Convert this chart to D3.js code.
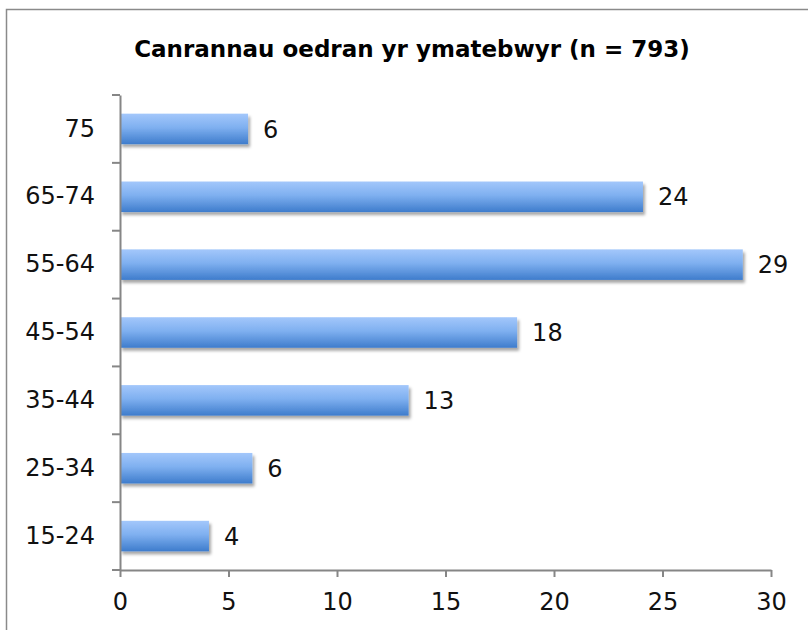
<!DOCTYPE html>
<html>
<head>
<meta charset="utf-8">
<script src="https://cdn.jsdelivr.net/npm/d3@7"></script>
<style>
  body { margin: 0; background: #fff; }
  svg { display: block; }
</style>
</head>
<body>
<div id="chart"></div>
<script>
// age groups, top to bottom as drawn
var categories = ["75", "65-74", "55-64", "45-54", "35-44", "25-34", "15-24"];
var values = [5.9, 24.1, 28.7, 18.3, 13.3, 6.1, 4.1];
var labels = ["6", "24", "29", "18", "13", "6", "4"];
var xTicks = [0, 5, 10, 15, 20, 25, 30];
var titleText = "Canrannau oedran yr ymatebwyr (n = 793)";

var width = 808, height = 630;
var margin = { top: 95, right: 37, bottom: 60, left: 120 };

var svg = d3.select("#chart").append("svg")
    .attr("width", width)
    .attr("height", height);

// gradient + shadow for the bars
var defs = svg.append("defs");
var grad = defs.append("linearGradient")
    .attr("id", "barGrad")
    .attr("x1", 0).attr("y1", 0).attr("x2", 0).attr("y2", 1);
grad.append("stop").attr("offset", "0%").attr("stop-color", "#a3c7fb");
grad.append("stop").attr("offset", "45%").attr("stop-color", "#7fb0f0");
grad.append("stop").attr("offset", "100%").attr("stop-color", "#3e7ccc");

var shadow = defs.append("filter").attr("id", "shadow")
    .attr("x", "-5%").attr("y", "-20%").attr("width", "115%").attr("height", "160%");
shadow.append("feDropShadow")
    .attr("dx", 2).attr("dy", 3).attr("stdDeviation", 1.8)
    .attr("flood-color", "#000").attr("flood-opacity", 0.35);

// outer frame
svg.append("rect")
    .attr("x", 6.5).attr("y", 9.5)
    .attr("width", 808).attr("height", 640)
    .style("fill", "none")
    .style("stroke", "#8a8a8a")
    .style("stroke-width", 1.5);

var x = d3.scaleLinear()
    .domain([0, 30])
    .range([margin.left, width - margin.right]);

var y = d3.scaleBand()
    .domain(categories)
    .range([margin.top, height - margin.bottom])
    .paddingInner(0.55)
    .paddingOuter(0.275);

var g = svg.append("g");

// bars
g.selectAll(".bar")
    .data(values)
    .enter().append("rect")
    .attr("class", "bar")
    .attr("x", x(0))
    .attr("y", function(d, i) { return y(categories[i]); })
    .attr("width", function(d) { return x(d) - x(0); })
    .attr("height", y.bandwidth())
    .style("fill", "url(#barGrad)")
    .style("filter", "url(#shadow)");

var font = "'DejaVu Sans', sans-serif";

// value labels
g.selectAll(".val")
    .data(values)
    .enter().append("text")
    .attr("class", "val")
    .attr("x", function(d) { return x(d) + 15; })
    .attr("y", function(d, i) { return y(categories[i]) + y.bandwidth() / 2; })
    .attr("dy", "0.36em")
    .style("font-family", font)
    .style("font-size", "24px")
    .style("fill", "#111")
    .text(function(d, i) { return labels[i]; });

var axisColor = "#868686";

// x axis
var xAxis = svg.append("g")
    .attr("transform", "translate(0," + (height - margin.bottom) + ")")
    .call(d3.axisBottom(x).tickValues(xTicks).tickSize(7).tickSizeOuter(0).tickPadding(16));

// y axis, ticks on band boundaries
var yAxis = svg.append("g")
    .attr("transform", "translate(" + margin.left + ",0)")
    .call(d3.axisLeft(y).tickSize(0).tickPadding(25));

var boundaries = d3.range(categories.length + 1).map(function(i) {
    return margin.top + i * (height - margin.top - margin.bottom) / categories.length;
});
yAxis.selectAll(".bound")
    .data(boundaries)
    .enter().append("line")
    .attr("class", "bound")
    .attr("x1", -8).attr("x2", 0)
    .attr("y1", function(d) { return d; })
    .attr("y2", function(d) { return d; });

[xAxis, yAxis].forEach(function(a) {
    a.select(".domain").style("stroke", axisColor).style("stroke-width", 2);
    a.selectAll("line").style("stroke", axisColor).style("stroke-width", 2);
    a.selectAll("text")
        .style("font-family", font)
        .style("font-size", "24px")
        .style("fill", "#111");
});

// title
svg.append("text")
    .attr("x", 412)
    .attr("y", 57)
    .attr("text-anchor", "middle")
    .style("font-family", font)
    .style("font-weight", "bold")
    .style("font-size", "23px")
    .style("fill", "#000")
    .text(titleText);
</script>
</body>
</html>
